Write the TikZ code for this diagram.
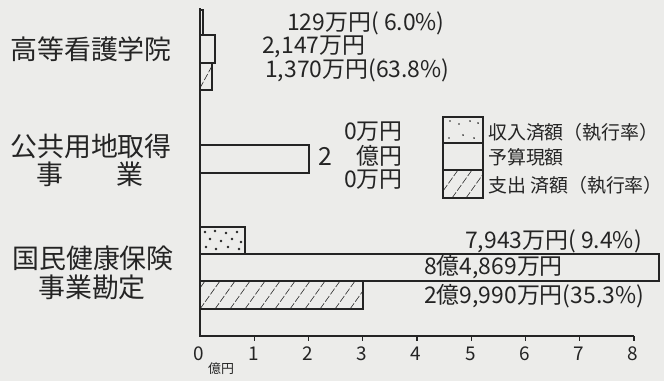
\documentclass[tikz,border=0pt]{standalone}
\usepackage{fontspec}
\setmainfont{Noto Sans CJK JP}
\definecolor{paper}{HTML}{ECECEA}
\definecolor{ink}{HTML}{242424}

\begin{document}
\begin{tikzpicture}
  [x=1bp,y=-1bp,every node/.style={inner sep=0pt,text=ink},
   bar/.style={draw=ink,line width=1.1pt},
   hatch/.style={draw=ink,line width=0.6pt,dash pattern=on 7bp off 2bp},
   speck/.style={fill=ink,circle,inner sep=0.9pt},
   itemname/.style={font=\fontsize{27}{30}\selectfont},
   amount/.style={font=\fontsize{23}{25}\selectfont,anchor=west},
   keytext/.style={font=\fontsize{19}{21}\selectfont,anchor=west},
   ticklabel/.style={font=\fontsize{19}{20}\selectfont}]

  \fill[paper] (0,0) rectangle (664,381);
  \useasboundingbox (0,0) rectangle (664,381);

  % item names
  \node[itemname] (nurse)   at (91,49)  {高等看護学院};
  \node[itemname] (land)    at (91,146) {公共用地取得};
  \node[itemname] (landb)   at (90,174) {事　　業};
  \node[itemname] (health)  at (93,258) {国民健康保険};
  \node[itemname] (healthb) at (92,287) {事業勘定};

  % bars
  \draw[bar] (200,10) rectangle (203,35);
  \draw[bar] (200,35) rectangle (215,63);
  \begin{scope}
    \clip (200,63) rectangle (212,90);
    \draw[hatch] (200,88) -- (212,66);
  \end{scope}
  \draw[bar] (200,63) rectangle (212,90);

  \draw[bar] (200,145) rectangle (309,173);

  \draw[bar] (200,227) rectangle (245,254);
  \foreach \p in {(205,232),(215,231),(226,233),(237,232),(210,239),(221,241),
                  (232,239),(241,242),(206,247),(216,249),(228,247),(239,249)}
    \node[speck] at \p {};
  \draw[bar] (200,254) rectangle (659,281);
  \begin{scope}
    \clip (200,281) rectangle (363,309);
    \foreach \x in {185,200,...,365}
      \draw[hatch] (\x,309) -- ++(20,-28);
  \end{scope}
  \draw[bar] (200,281) rectangle (363,309);

  % axis
  \draw[bar] (200,8) -- (200,336) -- (634,336);
  \foreach \v in {1,...,8}
    \draw[bar] (200+54.25*\v,336) -- ++(0,5);
  \foreach \v in {0,...,8}
    \node[ticklabel] (t\v) at (199+54.25*\v,354) {\v};
  \node[font=\fontsize{13}{15}\selectfont] (unit) at (221,369) {億円};

  % amounts
  \node[amount] (n1) at (287,23) {129万円( 6.0\%)};
  \node[amount] (n2) at (262,47) {2,147万円};
  \node[amount] (n3) at (265,70) {1,370万円(63.8\%)};

  \node[amount,anchor=east] (l1) at (403,132) {0万円};
  \node[font=\fontsize{25}{26}\selectfont] (l2a) at (325,156) {2};
  \node[amount,anchor=east] (l2) at (403,156) {億円};
  \node[amount,anchor=east] (l3) at (403,180) {0万円};

  \node[amount] (h1) at (465,241) {7,943万円( 9.4\%)};
  \node[amount] (h2) at (424,267) {8億4,869万円};
  \node[amount] (h3) at (424,296) {2億9,990万円(35.3\%)};

  % legend
  \draw[bar] (443,117) rectangle (483,143);
  \foreach \p in {(450,121),(459,124),(470,121),(478,123),(449,138),(463,135),(474,138)}
    \node[speck,inner sep=0.7pt] at \p {};
  \draw[bar] (443,143) rectangle (483,170);
  \begin{scope}
    \clip (443,170) rectangle (483,198);
    \foreach \x in {438,452,466}
      \draw[hatch] (\x,198) -- ++(20,-28);
  \end{scope}
  \draw[bar] (443,170) rectangle (483,198);
  \node[keytext] (k1) at (488,132) {収入済額（執行率）};
  \node[keytext] (k2) at (488,157) {予算現額};
  \node[keytext] (k3) at (488,185) {支出 済額（執行率）};

\end{tikzpicture}
\end{document}
